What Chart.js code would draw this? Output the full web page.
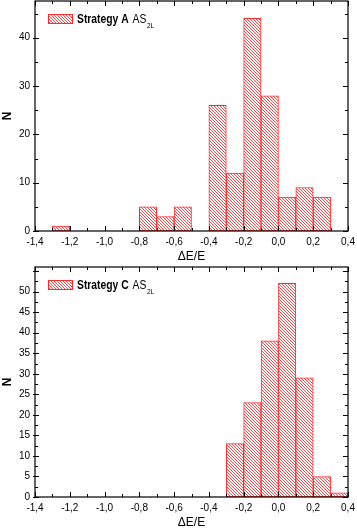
<!DOCTYPE html>
<html>
<head>
<meta charset="utf-8">
<script src="https://cdn.jsdelivr.net/npm/chart.js@4.4.1/dist/chart.umd.min.js"></script>
<style>
  html, body { margin: 0; padding: 0; background: #fff; }
  .box { position: relative; width: 357px; }
  canvas { display: block; }
</style>
</head>
<body>
<div class="box"><canvas id="chartA" width="357" height="265"></canvas></div>
<div class="box"><canvas id="chartC" width="357" height="266"></canvas></div>
<script>
// histogram bins (centre of each 0.1-wide bin) and counts
const binCentersA = [-1.25, -1.15, -1.05, -0.95, -0.85, -0.75, -0.65, -0.55, -0.45, -0.35, -0.25, -0.15, -0.05, 0.05, 0.15, 0.25];
const countsA = [1, 0, 0, 0, 0, 5, 3, 5, 0, 26, 12, 44, 28, 7, 9, 7];

const binCentersC = [-0.25, -0.15, -0.05, 0.05, 0.15, 0.25, 0.35];
const countsC = [13, 23, 38, 52, 29, 5, 1];

const xTickValues = [-1.4, -1.2, -1.0, -0.8, -0.6, -0.4, -0.2, 0.0, 0.2, 0.4];
const legendA = { bold: 'Strategy A', normal: 'AS', sub: '2L' };
const legendC = { bold: 'Strategy C', normal: 'AS', sub: '2L' };

const FONT = "'Liberation Sans', Arial, sans-serif";
const RED = '#ff2a2a';

// diagonal "\\\" hatch, one pixel per row, shifted so both charts share the page phase
function makeHatch(ctx, pageY) {
    const p = 3;
    const c = document.createElement('canvas');
    c.width = p; c.height = p;
    const g = c.getContext('2d');
    g.fillStyle = '#ffffff';
    g.fillRect(0, 0, p, p);
    g.fillStyle = '#ff4646';
    for (let i = 0; i < p; i++) g.fillRect(i, i, 1, 1);
    const pat = ctx.createPattern(c, 'repeat');
    pat.setTransform(new DOMMatrix([1, 0, 0, 1, 0, pageY % p]));
    return pat;
}

function fmt(v) {
    if (Math.abs(v) < 1e-9) v = 0;
    return v.toFixed(1).replace('.', ',');
}

function squeezeText(ctx, text, x, y, sx) {
    ctx.save();
    ctx.translate(x, y);
    ctx.scale(sx, 1);
    ctx.fillText(text, 0, 0);
    ctx.restore();
    return ctx.measureText(text).width * sx;
}

// frame with ticks on all four sides, plus the legend with subscript
const framePlugin = {
    id: 'frame',
    afterDraw(chart, args, opts) {
        const ctx = chart.ctx;
        const a = chart.chartArea;
        const xs = chart.scales.x, ys = chart.scales.y;
        ctx.save();
        ctx.strokeStyle = '#000';
        ctx.lineWidth = 1.2;
        ctx.strokeRect(a.left, a.top, a.right - a.left, a.bottom - a.top);
        ctx.lineWidth = 1;
        ctx.beginPath();
        for (let i = 0; i <= 18; i++) {
            const v = -1.4 + i * 0.1;
            const px = Math.round(xs.getPixelForValue(v)) + 0.5;
            const len = i % 2 === 0 ? 5 : 3;
            ctx.moveTo(px, a.bottom); ctx.lineTo(px, a.bottom - len);
            ctx.moveTo(px, a.top); ctx.lineTo(px, a.top + len);
        }
        for (let v = 0; v <= ys.max + 1e-9; v += opts.minorStep) {
            const py = Math.round(ys.getPixelForValue(v)) + 0.5;
            const major = Math.round(v / opts.minorStep) % opts.majorEvery === 0;
            if (major) {
                ctx.moveTo(a.left - 2, py); ctx.lineTo(a.left + 4, py);
                ctx.moveTo(a.right, py); ctx.lineTo(a.right - 5, py);
            } else {
                ctx.moveTo(a.left, py); ctx.lineTo(a.left + 3, py);
                ctx.moveTo(a.right, py); ctx.lineTo(a.right - 3, py);
            }
        }
        ctx.stroke();

        // legend
        const lg = opts.legend;
        const bx = a.left + 13, by = a.top + 13, bw = 24, bh = 9;
        ctx.fillStyle = chart.data.datasets[0].backgroundColor;
        ctx.fillRect(bx, by, bw, bh);
        ctx.strokeStyle = RED;
        ctx.strokeRect(bx + 0.5, by + 0.5, bw, bh);
        ctx.fillStyle = '#000';
        ctx.textBaseline = 'alphabetic';
        const base = by + bh;
        let tx = bx + bw + 5;
        ctx.font = 'bold 12px ' + FONT;
        tx += squeezeText(ctx, lg.bold, tx, base, 0.86);
        tx += 4;
        ctx.font = '12px ' + FONT;
        tx += squeezeText(ctx, lg.normal, tx, base, 0.86);
        ctx.font = '7.5px ' + FONT;
        squeezeText(ctx, lg.sub, tx + 0.5, base + 5, 0.86);
        ctx.restore();
    }
};

function buildChart(id, centers, counts, yMax, yStep, minorStep, majorEvery, legend, padTop, pageY) {
    const ctx = document.getElementById(id).getContext('2d');
    return new Chart(ctx, {
        type: 'bar',
        data: {
            datasets: [{
                data: centers.map((c, i) => ({ x: c, y: counts[i] })),
                backgroundColor: makeHatch(ctx, pageY),
                borderColor: RED,
                borderWidth: 1,
                borderSkipped: false,
                barPercentage: 1,
                categoryPercentage: 1
            }]
        },
        options: {
            responsive: false,
            animation: false,
            events: [],
            layout: { padding: { left: 0, right: 9, top: padTop, bottom: 0 } },
            plugins: {
                legend: { display: false },
                tooltip: { enabled: false },
                frame: { minorStep: minorStep, majorEvery: majorEvery, legend: legend }
            },
            scales: {
                x: {
                    type: 'linear',
                    min: -1.4,
                    max: 0.4,
                    offset: false,
                    afterBuildTicks(scale) {
                        scale.ticks = xTickValues.map(v => ({ value: v }));
                    },
                    afterFit(scale) {
                        scale.height = 34;
                        scale.paddingLeft = 0;
                        scale.paddingRight = 0;
                    },
                    grid: { display: false, drawTicks: false },
                    border: { display: false },
                    ticks: {
                        padding: 5,
                        color: '#000',
                        font: { family: FONT, size: 10 },
                        maxRotation: 0,
                        autoSkip: false,
                        callback: v => fmt(v)
                    },
                    title: {
                        display: true,
                        text: 'ΔE/E',
                        color: '#000',
                        font: { family: FONT, size: 12 },
                        padding: { top: 0, bottom: 1 }
                    }
                },
                y: {
                    min: 0,
                    max: yMax,
                    afterFit(scale) {
                        scale.width = 35;
                        scale.paddingTop = 0;
                        scale.paddingBottom = 0;
                    },
                    grid: { display: false, drawTicks: false },
                    border: { display: false },
                    ticks: {
                        stepSize: yStep,
                        padding: 5,
                        color: '#000',
                        font: { family: FONT, size: 10 },
                        callback: v => (v % yStep === 0 ? String(v) : '')
                    },
                    title: {
                        display: true,
                        text: 'N',
                        color: '#000',
                        font: { family: FONT, size: 12, weight: 'bold' },
                        padding: { top: 0, bottom: 0 }
                    }
                }
            }
        },
        plugins: [framePlugin]
    });
}

buildChart('chartA', binCentersA, countsA, 47.6, 10, 5, 2, legendA, 1, 0);
buildChart('chartC', binCentersC, countsC, 56, 5, 2.5, 2, legendC, 2, 265);
</script>
</body>
</html>
